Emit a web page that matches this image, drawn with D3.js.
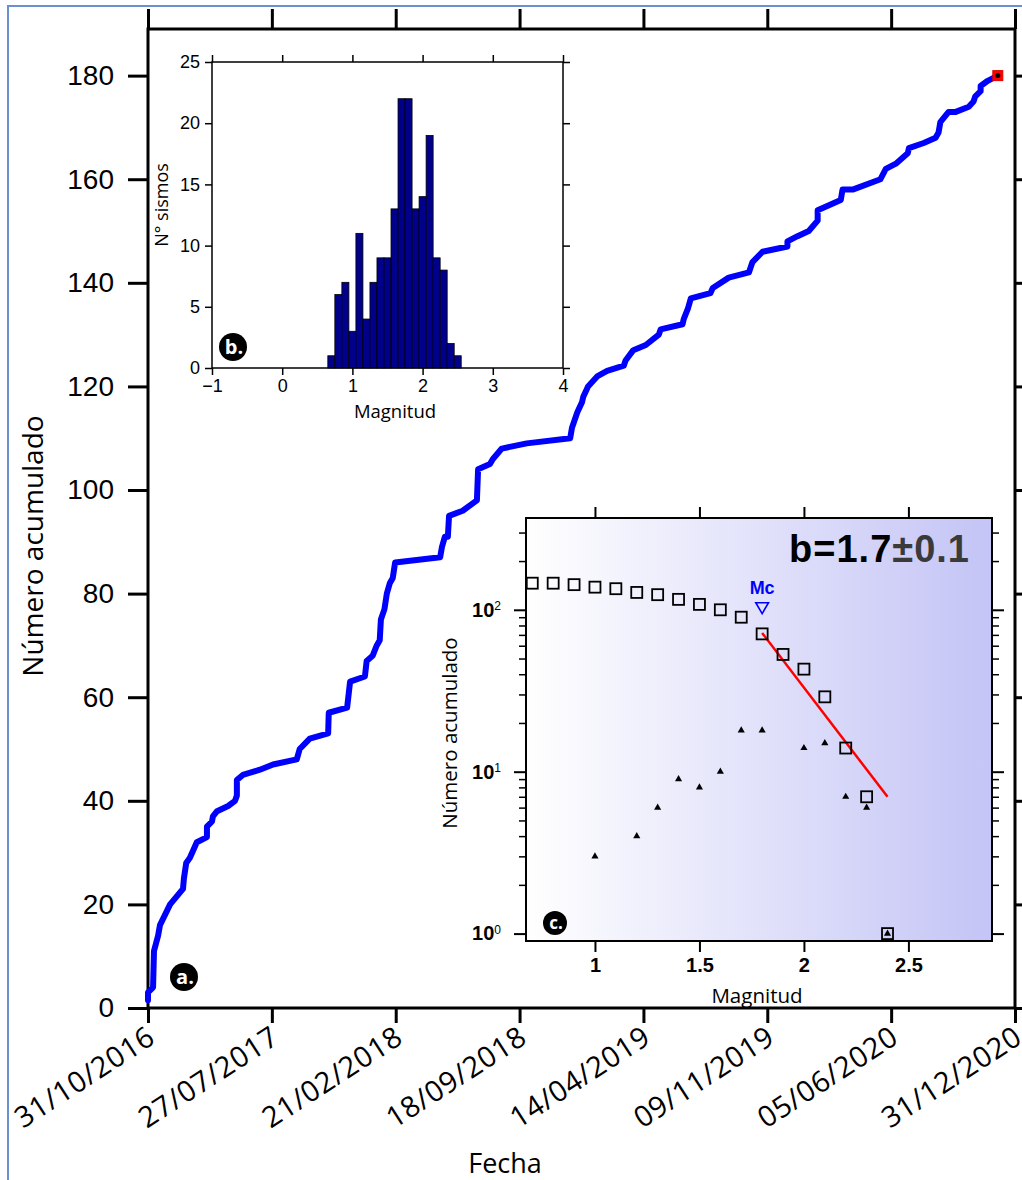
<!DOCTYPE html>
<html>
<head>
<meta charset="utf-8">
<script src="https://cdn.jsdelivr.net/npm/d3@7"></script>
<style>
  body { margin: 0; background: #fff; }
  svg { display: block; font-family: "Open Sans", sans-serif; }
</style>
</head>
<body>
<div id="graph"></div>
<script>
// ---- datos ----
// eje x principal: fechas de los ticks (espaciados igual en la figura)
var etiquetasFecha = ["31/10/2016", "27/07/2017", "21/02/2018", "18/09/2018",
  "14/04/2019", "09/11/2019", "05/06/2020", "31/12/2020"];

// curva acumulada (a.): dias desde 31/10/2016 y numero acumulado
var dias = [0, 0, 11, 13, 22, 26, 48, 76, 78, 83, 91, 106, 128, 128, 139, 141, 150, 174, 189, 193,
  193, 206, 243, 271, 311, 316, 333, 364, 365, 396, 401, 426, 429, 439, 446, 451, 453, 459, 463, 468,
  473, 477, 553, 556, 561, 566, 568, 591, 615, 617, 637, 642, 657, 699, 772, 775, 784, 792, 794, 802,
  818, 834, 862, 865, 878, 899, 921, 924, 961, 963, 970, 975, 1008, 1012, 1039, 1073, 1079, 1096, 1138, 1138,
  1155, 1174, 1189, 1189, 1228, 1231, 1248, 1295, 1304, 1321, 1341, 1343, 1368, 1388, 1393, 1396, 1410, 1422, 1444, 1452,
  1455, 1464, 1464, 1476, 1493];
var acumulado = [1.5, 3, 4, 11, 14, 16, 20, 23, 25, 28, 29, 32, 33, 35, 36, 37, 38, 39, 40, 41,
  44, 45, 46, 47, 48, 50, 52, 53, 57, 58, 63, 64, 67, 68, 70, 71, 75, 77, 80, 82,
  83, 86, 87, 89, 91, 91, 95, 96, 98, 104, 105, 106, 108, 109, 110, 112, 115, 117, 118, 120,
  122, 123, 124, 125, 127, 128, 130, 131, 132, 133, 135, 137, 138, 139, 141, 142, 144, 146, 147, 148,
  149, 150, 152, 154, 156, 158, 158, 160, 162, 163, 165, 166, 167, 168, 169, 171, 173, 173, 174, 175,
  176, 177, 178, 179, 180];

// histograma (b.)
var magHist = [0.7, 0.8, 0.9, 1.0, 1.1, 1.2, 1.3, 1.4, 1.5, 1.6, 1.7, 1.8, 1.9, 2.0, 2.1, 2.2, 2.3, 2.4, 2.5];
var nSismos = [1, 6, 7, 3, 11, 4, 7, 9, 9, 13, 22, 22, 13, 14, 19, 9, 8, 2, 1];

// Gutenberg-Richter (c.)
var magAcum = [0.7, 0.8, 0.9, 1.0, 1.1, 1.2, 1.3, 1.4, 1.5, 1.6, 1.7, 1.8, 1.9, 2.0, 2.1, 2.2, 2.3, 2.4];
var nAcum = [146, 146, 143, 138, 135, 128, 124, 116, 108, 100, 90, 71, 53, 43, 29, 14, 7, 1];
var magNoAcum = [1.0, 1.2, 1.3, 1.4, 1.5, 1.6, 1.7, 1.8, 2.0, 2.1, 2.2, 2.3, 2.4];
var nNoAcum = [3, 4, 6, 9, 8, 10, 18, 18, 14, 15, 7, 6, 1];
var magAjuste = [1.8, 2.4];
var nAjuste = [72, 7];
var mc = 1.8, mcN = 105;

// ---- svg ----
var W = 1022, H = 1180;
var svg = d3.select("#graph").append("svg").attr("width", W).attr("height", H);

// atajo para poner varios atributos
function at(sel, o) {
  Object.keys(o).forEach(function(k) { sel.attr(k, o[k]); });
  return sel;
}

// marco azul exterior
at(svg.append("rect"), {x: 8, y: 6, width: W + 20, height: H + 20,
  fill: "none", stroke: "#6a91cf", "stroke-width": 2});

function estilo(g, sw) {
  g.select(".domain").remove();
  g.selectAll(".tick line").attr("stroke", "#000").attr("stroke-width", sw);
  return g;
}

// ---- grafico principal ----
var m = {l: 148, r: 1015, t: 29, b: 1008};
var parse = d3.timeParse("%d/%m/%Y");
var fechasTick = etiquetasFecha.map(parse);
var x = d3.scaleTime()
  .domain(fechasTick)
  .range(fechasTick.map(function(d, i) { return m.l + i * (m.r - m.l) / 7; }));
var y = d3.scaleLinear().domain([0, 189]).range([m.b, m.t]);
var inicio = fechasTick[0];

var gl = svg.append("g").attr("transform", "translate(" + m.l + ",0)")
  .call(d3.axisLeft(y).tickValues(d3.range(0, 181, 20)).tickSize(20).tickPadding(14));
estilo(gl, 3);
gl.selectAll("text").attr("font-size", 28).attr("fill", "#000");

estilo(svg.append("g").attr("transform", "translate(" + m.r + ",0)")
  .call(d3.axisRight(y).tickValues(d3.range(0, 181, 20)).tickSize(9).tickFormat("")), 3);
estilo(svg.append("g").attr("transform", "translate(0," + m.t + ")")
  .call(d3.axisTop(x).tickValues(fechasTick).tickSize(20).tickFormat("")), 3);
estilo(svg.append("g").attr("transform", "translate(0," + m.b + ")")
  .call(d3.axisBottom(x).tickValues(fechasTick).tickSize(15).tickFormat("")), 3);

at(svg.append("rect"), {x: m.l, y: m.t, width: m.r - m.l, height: m.b - m.t,
  fill: "none", stroke: "#000", "stroke-width": 3});

svg.selectAll("text.fecha").data(fechasTick).enter().append("text")
  .attr("class", "fecha")
  .attr("transform", function(d) { return "translate(" + (x(d) + 9) + "," + (m.b + 34) + ") rotate(-33)"; })
  .attr("text-anchor", "end").attr("font-size", 29).attr("letter-spacing", 0.6)
  .text(function(d, i) { return etiquetasFecha[i]; });

svg.append("text").attr("x", 505).attr("y", 1173).attr("text-anchor", "middle")
  .attr("font-size", 27).text("Fecha");
svg.append("text").attr("transform", "translate(43,546) rotate(-90)").attr("text-anchor", "middle")
  .attr("font-size", 28).text("Número acumulado");

var serie = dias.map(function(d, i) { return [d3.timeDay.offset(inicio, d), acumulado[i]]; });
svg.append("path").datum(serie)
  .attr("d", d3.line().x(function(d) { return x(d[0]); }).y(function(d) { return y(d[1]); }))
  .attr("fill", "none").attr("stroke", "#0000ff").attr("stroke-width", 6)
  .attr("stroke-linejoin", "round").attr("stroke-linecap", "round");

var ult = serie[serie.length - 1];
at(svg.append("rect"), {x: x(ult[0]) - 5, y: y(ult[1]) - 5, width: 10, height: 10,
  fill: "#ff0000", stroke: "#e00000"});
at(svg.append("circle"), {cx: x(ult[0]), cy: y(ult[1]), r: 2.5, fill: "#000"});

function etiqueta(cx, cy, r, txt, fs) {
  at(svg.append("circle"), {cx: cx, cy: cy, r: r, fill: "#000"});
  at(svg.append("text"), {x: cx + 1, y: cy + fs * 0.33, "text-anchor": "middle",
    fill: "#fff", "font-size": fs, "font-weight": "bold"}).text(txt);
}
etiqueta(184, 977, 14, "a.", 20);

// ---- inset b: histograma ----
var b = {l: 212, r: 563, t: 62, b: 368};
var xb = d3.scaleLinear().domain([-1, 4]).range([b.l, b.r]);
var yb = d3.scaleLinear().domain([0, 25]).range([b.b, b.t]);

at(svg.append("rect"), {x: b.l, y: b.t, width: b.r - b.l, height: b.b - b.t, fill: "#fff"});
svg.selectAll("rect.bar").data(magHist).enter().append("rect").attr("class", "bar")
  .attr("x", function(d) { return xb(d - 0.05); })
  .attr("width", function(d) { return xb(d + 0.05) - xb(d - 0.05); })
  .attr("y", function(d, i) { return yb(nSismos[i]); })
  .attr("height", function(d, i) { return yb(0) - yb(nSismos[i]); })
  .attr("fill", "#00008b").attr("stroke", "#000").attr("stroke-width", 0.8);

var gbl = svg.append("g").attr("transform", "translate(" + b.l + ",0)")
  .call(d3.axisLeft(yb).tickValues(d3.range(0, 26, 5)).tickSize(7).tickPadding(5));
estilo(gbl, 1.5);
gbl.selectAll("text").attr("font-size", 18).attr("fill", "#000");
estilo(svg.append("g").attr("transform", "translate(" + b.r + ",0)")
  .call(d3.axisRight(yb).tickValues(d3.range(0, 26, 5)).tickSize(7).tickFormat("")), 1.5);
estilo(svg.append("g").attr("transform", "translate(0," + b.t + ")")
  .call(d3.axisTop(xb).ticks(5).tickSize(7).tickFormat("")), 1.5);
var gbb = svg.append("g").attr("transform", "translate(0," + b.b + ")")
  .call(d3.axisBottom(xb).ticks(5).tickSize(7).tickPadding(4));
estilo(gbb, 1.5);
gbb.selectAll("text").attr("font-size", 18).attr("fill", "#000");
at(svg.append("rect"), {x: b.l, y: b.t, width: b.r - b.l, height: b.b - b.t,
  fill: "none", stroke: "#000", "stroke-width": 1.5});
svg.append("text").attr("x", 395).attr("y", 418).attr("text-anchor", "middle")
  .attr("font-size", 18.5).text("Magnitud");
svg.append("text").attr("transform", "translate(168,205) rotate(-90)").attr("text-anchor", "middle")
  .attr("font-size", 18).text("N° sismos");
etiqueta(233, 347, 14, "b.", 20);

// ---- inset c: Gutenberg-Richter ----
var c = {l: 526, r: 992, t: 518, b: 941};
var xc = d3.scaleLinear().domain([0.67, 2.9]).range([c.l, c.r]);
var yc = d3.scaleLog().domain([0.9, 369]).range([c.b, c.t]);

var grad = svg.append("defs").append("linearGradient").attr("id", "fondo")
  .attr("x1", 0).attr("x2", 1).attr("y1", 0).attr("y2", 0);
grad.append("stop").attr("offset", 0).attr("stop-color", "#ffffff");
grad.append("stop").attr("offset", 1).attr("stop-color", "#c4c4f6");
at(svg.append("rect"), {x: c.l, y: c.t, width: c.r - c.l, height: c.b - c.t, fill: "url(#fondo)"});

var mayores = [1, 10, 100];
var menores = [2, 3, 4, 5, 6, 7, 8, 9, 20, 30, 40, 50, 60, 70, 80, 90, 200, 300];
var gcl = svg.append("g").attr("transform", "translate(" + c.l + ",0)")
  .call(d3.axisLeft(yc).tickValues(mayores).tickSize(12).tickPadding(6).tickFormat(function() { return ""; }));
estilo(gcl, 2);
gcl.selectAll("text").attr("font-family", "Liberation Sans, Arial, sans-serif")
  .attr("font-weight", "bold").attr("font-size", 20).attr("fill", "#000")
  .each(function(d) {
    var t = d3.select(this).attr("dx", "-0.35em");
    t.append("tspan").text("10");
    t.append("tspan").attr("dy", "-0.55em").attr("font-size", 12).attr("font-weight", "normal")
      .text(Math.round(Math.log10(d)));
  });
estilo(svg.append("g").attr("transform", "translate(" + c.l + ",0)")
  .call(d3.axisLeft(yc).tickValues(menores).tickSize(7).tickFormat("")), 1.5);
estilo(svg.append("g").attr("transform", "translate(" + c.r + ",0)")
  .call(d3.axisRight(yc).tickValues(mayores).tickSize(12).tickFormat("")), 2);
estilo(svg.append("g").attr("transform", "translate(" + c.r + ",0)")
  .call(d3.axisRight(yc).tickValues(menores).tickSize(7).tickFormat("")), 1.5);
estilo(svg.append("g").attr("transform", "translate(0," + c.t + ")")
  .call(d3.axisTop(xc).tickValues([1, 1.5, 2, 2.5]).tickSize(11).tickFormat("")), 2);
var gcb = svg.append("g").attr("transform", "translate(0," + c.b + ")")
  .call(d3.axisBottom(xc).tickValues([1, 1.5, 2, 2.5]).tickSize(11).tickPadding(6).tickFormat(d3.format("")));
estilo(gcb, 2);
gcb.selectAll("text").attr("font-family", "Liberation Sans, Arial, sans-serif")
  .attr("font-weight", "bold").attr("font-size", 20).attr("fill", "#000");
at(svg.append("rect"), {x: c.l, y: c.t, width: c.r - c.l, height: c.b - c.t,
  fill: "none", stroke: "#000", "stroke-width": 2});

svg.append("text").attr("x", 757).attr("y", 1003).attr("text-anchor", "middle")
  .attr("font-size", 20.5).text("Magnitud");
svg.append("text").attr("transform", "translate(457,733) rotate(-90)").attr("text-anchor", "middle")
  .attr("font-size", 20.5).text("Número acumulado");

// recta de ajuste
svg.append("path").datum(magAjuste.map(function(d, i) { return [d, nAjuste[i]]; }))
  .attr("d", d3.line().x(function(d) { return xc(d[0]); }).y(function(d) { return yc(d[1]); }))
  .attr("stroke", "#ff0000").attr("stroke-width", 2.5).attr("fill", "none");

// acumulado: cuadrados
svg.selectAll("rect.acum").data(magAcum).enter().append("rect").attr("class", "acum")
  .attr("x", function(d) { return xc(d) - 5.5; })
  .attr("y", function(d, i) { return yc(nAcum[i]) - 5.5; })
  .attr("width", 11).attr("height", 11)
  .attr("fill", "none").attr("stroke", "#000").attr("stroke-width", 1.8);

// no acumulado: triangulos
var tri = d3.symbol().type(d3.symbolTriangle).size(22);
svg.selectAll("path.noacum").data(magNoAcum).enter().append("path").attr("class", "noacum")
  .attr("transform", function(d, i) { return "translate(" + xc(d) + "," + yc(nNoAcum[i]) + ")"; })
  .attr("d", tri).attr("fill", "#000");

// Mc
svg.append("path")
  .attr("transform", "translate(" + xc(mc) + "," + yc(mcN) + ") rotate(180)")
  .attr("d", d3.symbol().type(d3.symbolTriangle).size(70))
  .attr("fill", "none").attr("stroke", "#0000ff").attr("stroke-width", 1.6);
svg.append("text").attr("x", xc(mc)).attr("y", yc(mcN) - 12).attr("text-anchor", "middle")
  .attr("font-family", "Liberation Sans, Arial, sans-serif").attr("font-weight", "bold")
  .attr("font-size", 18).attr("fill", "#0000ff").text("Mc");

var tb = svg.append("text").attr("x", 970).attr("y", 562).attr("text-anchor", "end")
  .attr("font-family", "Liberation Sans, Arial, sans-serif").attr("font-weight", "bold")
  .attr("font-size", 38).attr("letter-spacing", 1);
tb.append("tspan").attr("fill", "#000").text("b=1.7");
tb.append("tspan").attr("fill", "#3a3a3a").text("±0.1");

etiqueta(555, 923, 12, "c.", 17);
</script>
</body>
</html>
